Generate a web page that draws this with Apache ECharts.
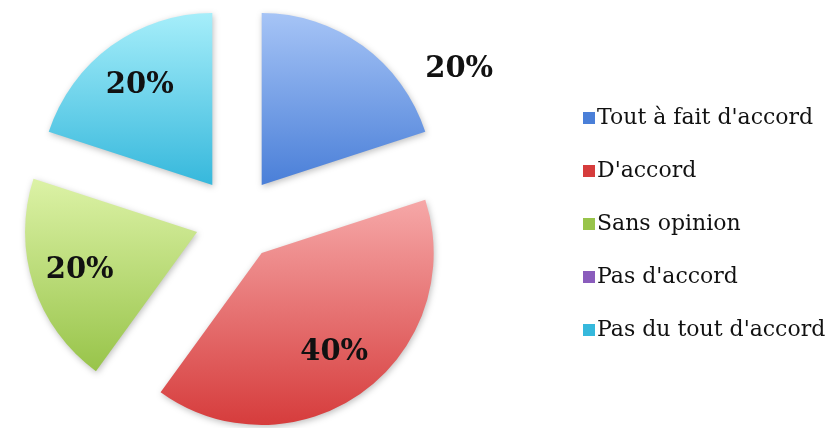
<!DOCTYPE html>
<html>
<head>
<meta charset="utf-8">
<script src="https://cdn.jsdelivr.net/npm/echarts@6/dist/echarts.min.js"></script>
<style>
  html, body { margin: 0; padding: 0; background: #fff; }
  #J_pie { width: 839px; height: 428px; }
</style>
</head>
<body>
<div id="J_pie"></div>
<script>
var categories = ['Tout à fait d\'accord', 'D\'accord', 'Sans opinion', 'Pas d\'accord', 'Pas du tout d\'accord'];
var values = [20, 40, 20, 0, 20];
var colorsTop = ['#a6c4f6', '#f6a8a8', '#dcf2a6', '#b89ad8', '#a6eefa'];
var colorsBottom = ['#4a7fd8', '#d63c3c', '#98c44a', '#8a5cbc', '#36b8dc'];

var cx = 237, cy = 219, radius = 172, offset = 42;

function gradient(i) {
    return new echarts.graphic.LinearGradient(0, 0, 0, 1, [
        { offset: 0, color: colorsTop[i] },
        { offset: 1, color: colorsBottom[i] }
    ]);
}

function labelText(p) {
    return p.value ? p.percent.toFixed(0) + '%' : '';
}

var labelFont = {
    fontFamily: 'DejaVu Serif',
    fontWeight: 'bold',
    fontSize: 29,
    color: '#111'
};

var pie = echarts.init(document.getElementById('J_pie'));
pie.setOption({
    animation: false,
    legend: {
        orient: 'vertical',
        left: 578,
        top: 101,
        itemWidth: 12,
        itemHeight: 12,
        itemGap: 29,
        icon: 'rect',
        selectedMode: false,
        data: categories.map(function (name, i) {
            return { name: name, itemStyle: { color: colorsBottom[i] } };
        }),
        textStyle: {
            fontFamily: 'DejaVu Serif',
            fontSize: 22,
            lineHeight: 24,
            color: '#111',
            padding: [0, 0, 0, -3]
        }
    },
    series: [{
        name: 'Opinion',
        type: 'pie',
        radius: radius,
        center: [cx, cy],
        startAngle: 90,
        clockwise: true,
        selectedMode: 'multiple',
        selectedOffset: offset,
        silent: true,
        itemStyle: {
            shadowBlur: 6,
            shadowColor: 'rgba(0,0,0,0.25)',
            shadowOffsetX: 1,
            shadowOffsetY: 2
        },
        label: { show: false },
        labelLine: { show: false },
        data: categories.map(function (name, i) {
            return { name: name, value: values[i], selected: true, itemStyle: { color: gradient(i) } };
        })
    }, {
        // transparent copy, only carries the percentage labels
        name: 'Labels',
        type: 'pie',
        radius: offset * 2 + radius * 1.4,
        center: [cx, cy],
        startAngle: 90,
        clockwise: true,
        silent: true,
        z: 3,
        itemStyle: { color: 'rgba(0,0,0,0)' },
        label: Object.assign({ show: true, position: 'inside', formatter: labelText }, labelFont),
        labelLine: { show: false },
        labelLayout: function (params) {
            if (params.dataIndex === 0) {
                // first label sits outside, upper right of its slice
                var a = 56 / 180 * Math.PI;
                return { x: cx + 268 * Math.sin(a), y: cy - 268 * Math.cos(a), align: 'center', verticalAlign: 'middle' };
            }
        },
        data: categories.map(function (name, i) {
            return { name: name, value: values[i] };
        })
    }]
});
</script>
</body>
</html>
